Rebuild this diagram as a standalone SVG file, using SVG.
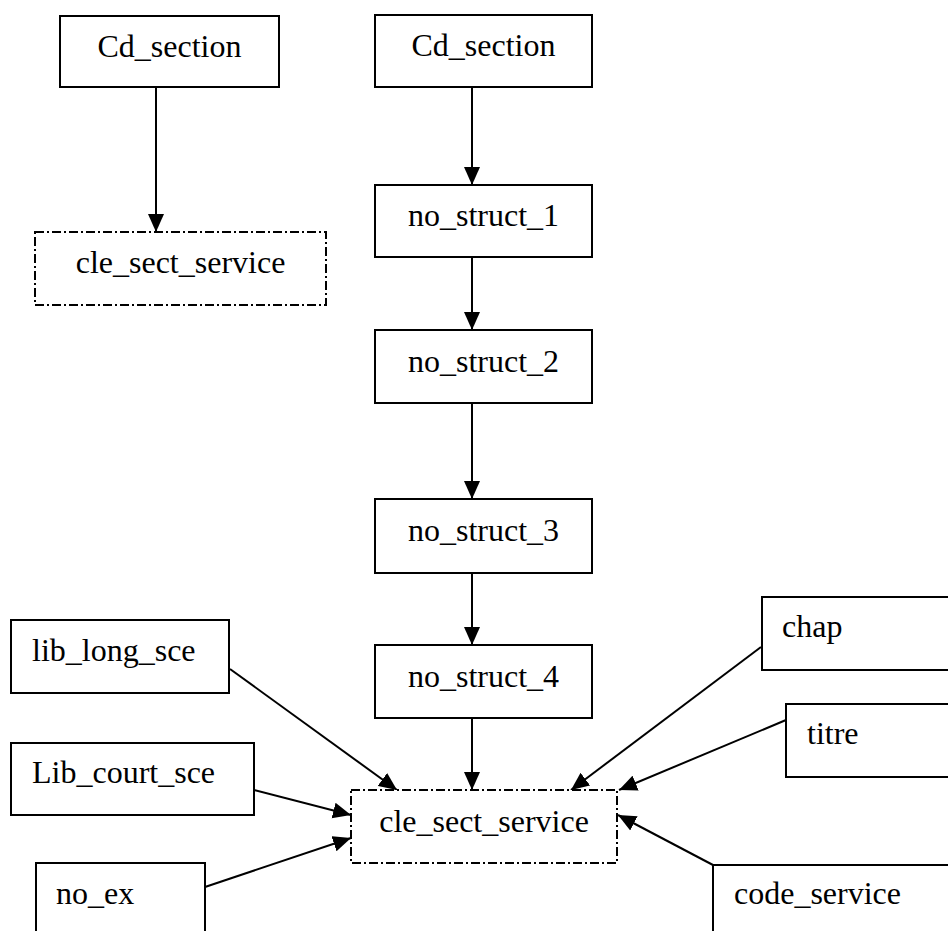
<svg xmlns="http://www.w3.org/2000/svg" width="948" height="931" viewBox="0 0 948 931">
<style>
  .box { fill: #ffffff; stroke: #000000; stroke-width: 2; }
  .dbox { fill: #ffffff; stroke: #000000; stroke-width: 2; stroke-dasharray: 9 3 2 3; }
  .lbl { font-family: "Liberation Serif", "Times New Roman", serif; font-size: 32px; fill: #000000; }
  .mid { text-anchor: middle; }
  .edge { fill: none; stroke: #000000; stroke-width: 2; marker-end: url(#arr); }
</style>
<defs>
  <marker id="arr" markerUnits="userSpaceOnUse" markerWidth="19" markerHeight="17" refX="18" refY="8.5" orient="auto">
    <path d="M0,0.5 L18,8.5 L0,16.5 z" fill="#000000"/>
  </marker>
</defs>
<rect width="948" height="931" fill="#ffffff"/>
<g id="connectors">
  <line class="edge" x1="156" y1="87" x2="156" y2="232"/>
  <line class="edge" x1="472" y1="87" x2="472" y2="185"/>
  <line class="edge" x1="472" y1="257" x2="472" y2="330"/>
  <line class="edge" x1="472" y1="403" x2="472" y2="499"/>
  <line class="edge" x1="472" y1="573" x2="472" y2="645"/>
  <line class="edge" x1="472" y1="718" x2="472" y2="790"/>
  <line class="edge" x1="230" y1="669" x2="397" y2="790"/>
  <line class="edge" x1="254" y1="790" x2="351" y2="815"/>
  <line class="edge" x1="205" y1="887" x2="351" y2="838"/>
  <line class="edge" x1="761" y1="647" x2="571" y2="790"/>
  <line class="edge" x1="786" y1="720" x2="619" y2="790"/>
  <line class="edge" x1="713" y1="865" x2="618" y2="815"/>
</g>
<g id="cd_section_left">
  <rect class="box" x="60" y="16" width="219" height="71"/>
  <text class="lbl mid" x="169.5" y="57">Cd_section</text>
</g>
<g id="cle_sect_service_top">
  <rect class="dbox" x="35" y="232" width="291" height="73"/>
  <text class="lbl mid" x="180.5" y="273">cle_sect_service</text>
</g>
<g id="cd_section_right">
  <rect class="box" x="375" y="15" width="217" height="72"/>
  <text class="lbl mid" x="483.5" y="56">Cd_section</text>
</g>
<g id="no_struct_1">
  <rect class="box" x="375" y="185" width="217" height="72"/>
  <text class="lbl mid" x="483.5" y="226">no_struct_1</text>
</g>
<g id="no_struct_2">
  <rect class="box" x="375" y="330" width="217" height="73"/>
  <text class="lbl mid" x="483.5" y="372">no_struct_2</text>
</g>
<g id="no_struct_3">
  <rect class="box" x="375" y="499" width="217" height="74"/>
  <text class="lbl mid" x="483.5" y="541">no_struct_3</text>
</g>
<g id="no_struct_4">
  <rect class="box" x="375" y="645" width="217" height="73"/>
  <text class="lbl mid" x="483.5" y="687">no_struct_4</text>
</g>
<g id="cle_sect_service_bottom">
  <rect class="dbox" x="351" y="790" width="266" height="73"/>
  <text class="lbl mid" x="484" y="832">cle_sect_service</text>
</g>
<g id="lib_long_sce">
  <rect class="box" x="11" y="620" width="218" height="73"/>
  <text class="lbl" x="32" y="661">lib_long_sce</text>
</g>
<g id="lib_court_sce">
  <rect class="box" x="11" y="743" width="243" height="72"/>
  <text class="lbl" x="32" y="783">Lib_court_sce</text>
</g>
<g id="no_ex">
  <rect class="box" x="36" y="863" width="169" height="100"/>
  <text class="lbl" x="56" y="904">no_ex</text>
</g>
<g id="chap">
  <rect class="box" x="762" y="597" width="220" height="73"/>
  <text class="lbl" x="782" y="637">chap</text>
</g>
<g id="titre">
  <rect class="box" x="786" y="704" width="200" height="73"/>
  <text class="lbl" x="807" y="744">titre</text>
</g>
<g id="code_service">
  <rect class="box" x="713" y="865" width="260" height="100"/>
  <text class="lbl" x="734" y="904">code_service</text>
</g>
</svg>
